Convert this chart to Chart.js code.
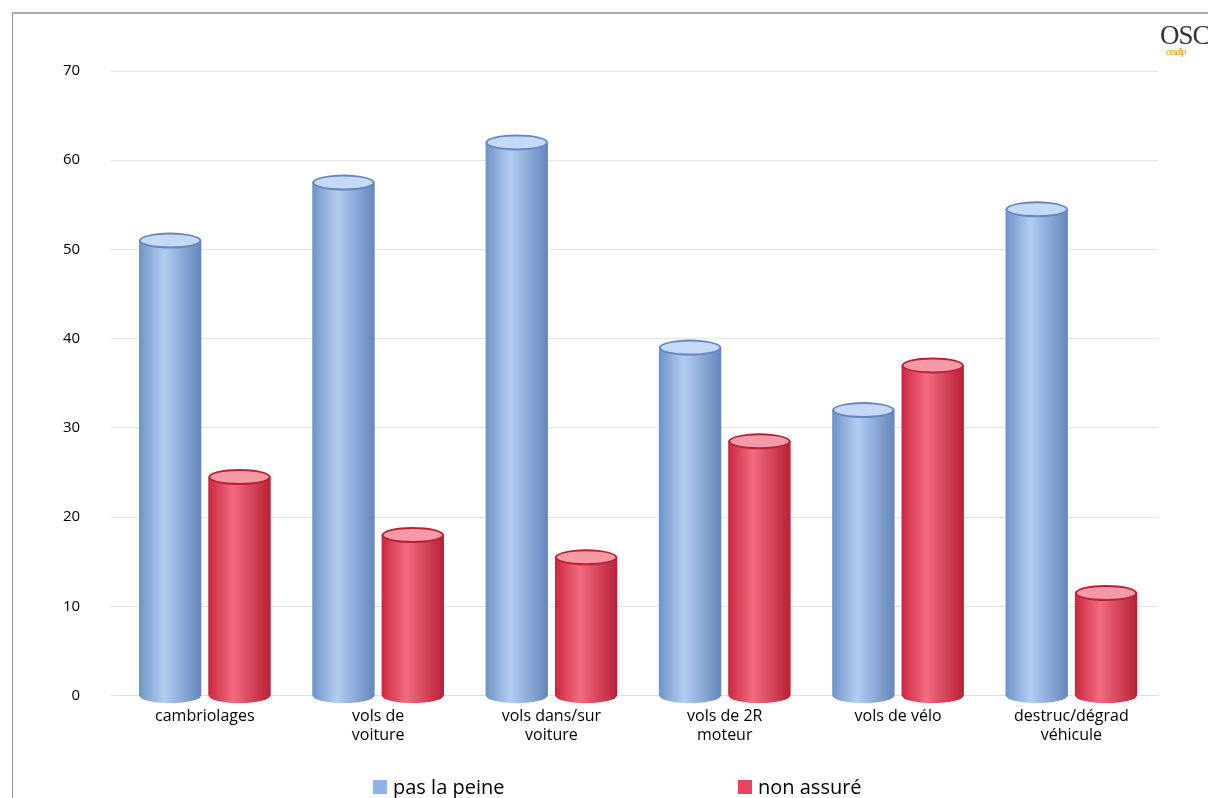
<!DOCTYPE html><html><head><meta charset="utf-8">
<script src="https://cdn.jsdelivr.net/npm/chart.js@4"></script>
<style>body{margin:0;background:#fff;overflow:hidden}#w{position:absolute;left:12px;top:12px;width:1196px;height:786px;border-left:1px solid #999;border-top:2px solid #aaa;box-sizing:border-box}
#logo{position:absolute;left:1160px;top:20px;font-family:'Liberation Serif';font-size:27px;color:#333;letter-spacing:-1px}
#logo i{position:absolute;left:6px;top:26px;font-size:10px;color:#d9a000}
#leg{position:absolute;top:773px;left:0;width:1208px;font-family:'Open Sans';font-size:20px;color:#000}
#leg span{position:absolute;white-space:nowrap}#leg b{display:inline-block;width:14px;height:14px;margin-right:6px}</style></head><body>
<div id="w"><canvas id="c"></canvas></div><div id="logo">OSC<i>cesdip</i></div>
<div id="leg"><span style="left:373px"><b style="background:#8fb3e6"></b>pas la peine</span><span style="left:738px"><b style="background:#e8445c"></b>non assuré</span></div>
<script>
const categories=[["cambriolages"],["vols de","voiture"],["vols dans/sur","voiture"],["vols de 2R","moteur"],["vols de vélo"],["destruc/dégrad","véhicule"]];
const pasLaPeine=[51,57.5,62,39,32,54.5];
const nonAssure=[24.5,18,15.5,28.5,37,11.5];
const yTicks=[0,10,20,30,40,50,60,70];
const cols=[['#6f93c8','#b3cdf2','#6486bd','#c5dafa'],['#c9283f','#f26b7e','#b82036','#f59aa6']];
const cyl={id:'cyl',afterDatasetsDraw(ch){const c=ch.ctx;ch.data.datasets.forEach((d,i)=>{ch.getDatasetMeta(i).data.forEach(el=>{const w=el.width,x0=el.x-w/2,h=8;const k=cols[i];
const g=c.createLinearGradient(x0,0,x0+w,0);g.addColorStop(0,k[0]);g.addColorStop(0.4,k[1]);g.addColorStop(1,k[2]);
c.save();c.fillStyle=g;c.beginPath();c.moveTo(x0,el.y);c.lineTo(x0,el.base);c.ellipse(el.x,el.base,w/2,h,0,Math.PI,0,true);c.lineTo(x0+w,el.y);c.closePath();c.fill();
c.beginPath();c.ellipse(el.x,el.y,w/2,h,0,0,Math.PI*2);c.fillStyle=k[2];c.fill();c.beginPath();c.ellipse(el.x,el.y,w/2-2,h-2,0,0,Math.PI*2);c.fillStyle=k[3];c.fill();c.restore();});});}};
new Chart(document.getElementById('c'),{type:'bar',data:{labels:categories,datasets:[
{label:'pas la peine',data:pasLaPeine,backgroundColor:'rgba(0,0,0,0)'},
{label:'non assuré',data:nonAssure,backgroundColor:'rgba(0,0,0,0)'}]},plugins:[cyl],
options:{responsive:true,maintainAspectRatio:false,animation:false,
layout:{padding:{left:20,right:50,top:57,bottom:50}},
plugins:{legend:{display:false},tooltip:{enabled:false}},
scales:{x:{grid:{display:false},border:{color:'#ddd'},ticks:{color:'#000',font:{family:'Open Sans',size:16}},categoryPercentage:0.68,barPercentage:0.92},
y:{min:0,max:70,afterBuildTicks:a=>{a.ticks=yTicks.map(v=>({value:v}))},grid:{color:'#e4e4e4'},border:{display:false},ticks:{color:'#000',padding:30,font:{family:'Open Sans',size:15}}}}}});
</script></body></html>
